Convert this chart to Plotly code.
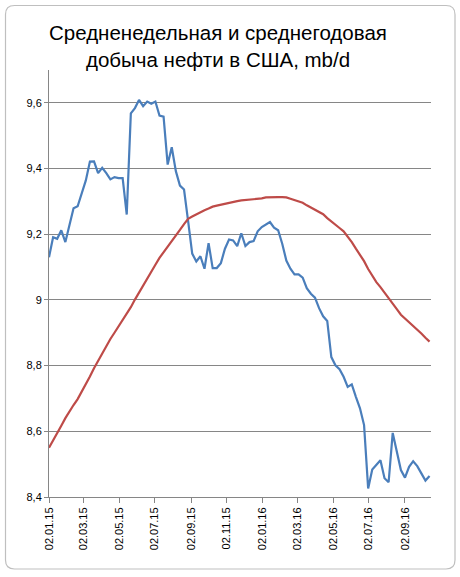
import plotly.graph_objects as go
import pandas as pd

# Weekly dates (Fridays), 02.01.2015 .. 14.10.2016
dates = pd.date_range("2015-01-02", periods=94, freq="7D")

weekly = [
    9.130, 9.191, 9.186, 9.212, 9.176, 9.232, 9.279, 9.285, 9.323, 9.364,
    9.421, 9.422, 9.386, 9.402, 9.386, 9.367, 9.374, 9.371, 9.371, 9.260,
    9.568, 9.584, 9.609, 9.590, 9.604, 9.597, 9.604, 9.561, 9.558, 9.412,
    9.465, 9.392, 9.348, 9.336, 9.240, 9.141, 9.117, 9.133, 9.095, 9.173,
    9.097, 9.097, 9.112, 9.156, 9.184, 9.181, 9.164, 9.203, 9.164, 9.176,
    9.179, 9.209, 9.222, 9.229, 9.237, 9.220, 9.212, 9.171, 9.120, 9.095,
    9.078, 9.078, 9.068, 9.036, 9.019, 9.007, 8.975, 8.950, 8.936, 8.826,
    8.801, 8.789, 8.766, 8.735, 8.743, 8.705, 8.670, 8.619, 8.426, 8.484,
    8.497, 8.512, 8.457, 8.445, 8.595, 8.533, 8.482, 8.459, 8.492, 8.509,
    8.494, 8.472, 8.450, 8.464,
]

annual = [
    8.550, 8.571, 8.594, 8.617, 8.640, 8.661, 8.680, 8.698, 8.720, 8.743,
    8.767, 8.792, 8.815, 8.838, 8.861, 8.881, 8.900, 8.919, 8.937, 8.955,
    8.978, 9.001, 9.023, 9.044, 9.066, 9.087, 9.107, 9.128, 9.145, 9.160,
    9.176, 9.194, 9.213, 9.231, 9.247, 9.254, 9.261, 9.268, 9.273, 9.278,
    9.284, 9.287, 9.290, 9.294, 9.296, 9.299, 9.301, 9.303, 9.304, 9.305,
    9.305, 9.307, 9.309, 9.312, 9.313, 9.313, 9.313, 9.313, 9.312, 9.308,
    9.304, 9.300, 9.296, 9.288, 9.281, 9.274, 9.267, 9.261, 9.249, 9.238,
    9.228, 9.219, 9.209, 9.194, 9.176, 9.156, 9.137, 9.118, 9.094, 9.073,
    9.054, 9.039, 9.023, 9.006, 8.989, 8.972, 8.955, 8.944, 8.934, 8.923,
    8.911, 8.898, 8.885, 8.873,
]

x_tick_dates = ["2015-01-02", "2015-03-02", "2015-05-02", "2015-07-02",
                "2015-09-02", "2015-11-02", "2016-01-02", "2016-03-02",
                "2016-05-02", "2016-07-02", "2016-09-02"]
x_tick_labels = ["02.01.15", "02.03.15", "02.05.15", "02.07.15", "02.09.15",
                 "02.11.15", "02.01.16", "02.03.16", "02.05.16", "02.07.16",
                 "02.09.16"]
y_tick_vals = [8.4, 8.6, 8.8, 9.0, 9.2, 9.4, 9.6]
y_tick_labels = ["8,4", "8,6", "8,8", "9", "9,2", "9,4", "9,6"]

title_lines = ["Средненедельная и среднегодовая", "добыча нефти в США, mb/d"]

W, H = 460, 577
ML, MR, MT, MB = 49, 29, 70, 80

fig = go.Figure()
fig.add_trace(go.Scatter(x=dates, y=weekly, mode="lines",
                         line=dict(color="#4A7EBB", width=2.2),
                         showlegend=False, hoverinfo="skip"))
fig.add_trace(go.Scatter(x=dates, y=annual, mode="lines",
                         line=dict(color="#BE4B48", width=2.2),
                         showlegend=False, hoverinfo="skip"))

# chart border (rounded rectangle), expressed in paper coords
pw, ph = W - ML - MR, H - MT - MB
def px(x):
    return (x - ML) / pw
def py(y):
    return (H - MB - y) / ph
x0, x1, y0, y1, r = 5.5, 455, 5.5, 569, 9
path = (f"M {px(x0+r)},{py(y0)} L {px(x1-r)},{py(y0)} "
        f"Q {px(x1)},{py(y0)} {px(x1)},{py(y0+r)} "
        f"L {px(x1)},{py(y1-r)} Q {px(x1)},{py(y1)} {px(x1-r)},{py(y1)} "
        f"L {px(x0+r)},{py(y1)} Q {px(x0)},{py(y1)} {px(x0)},{py(y1-r)} "
        f"L {px(x0)},{py(y0+r)} Q {px(x0)},{py(y0)} {px(x0+r)},{py(y0)} Z")
fig.add_shape(type="path", path=path, xref="paper", yref="paper",
              line=dict(color="#BFBFBF", width=1.2), layer="below")

for txt, yc in zip(title_lines, [33, 60]):
    fig.add_annotation(text=txt, x=px(218), xref="paper", xanchor="center",
                       y=py(yc), yref="paper", yanchor="middle",
                       showarrow=False,
                       font=dict(family="Liberation Sans", size=20.5, color="#000000"))

fig.update_layout(
    width=W, height=H,
    margin=dict(l=ML, r=MR, t=MT, b=MB),
    paper_bgcolor="white", plot_bgcolor="white",
    font=dict(family="Liberation Sans", size=11, color="#000000"),
)
fig.update_xaxes(type="date",
                 range=["2015-01-02", "2016-10-16 12:00"],
                 tickmode="array", tickvals=x_tick_dates, ticktext=x_tick_labels,
                 tickangle=-90, showgrid=False, showline=True,
                 linecolor="#868686", linewidth=1,
                 ticks="outside", ticklen=5, tickcolor="#868686",
                 tickfont=dict(size=11), zeroline=False)
fig.update_yaxes(range=[8.4, 9.7], tickmode="array", tickvals=y_tick_vals,
                 ticktext=y_tick_labels, showgrid=True, gridcolor="#868686",
                 gridwidth=1, showline=True, linecolor="#868686", linewidth=1,
                 ticks="outside", ticklen=4, tickcolor="#868686",
                 tickfont=dict(size=11), zeroline=False)

fig.write_html("out.html",
               config={"displayModeBar": False},
               post_script="document.body.style.margin='0px';"
                           "document.body.style.overflow='hidden';")
